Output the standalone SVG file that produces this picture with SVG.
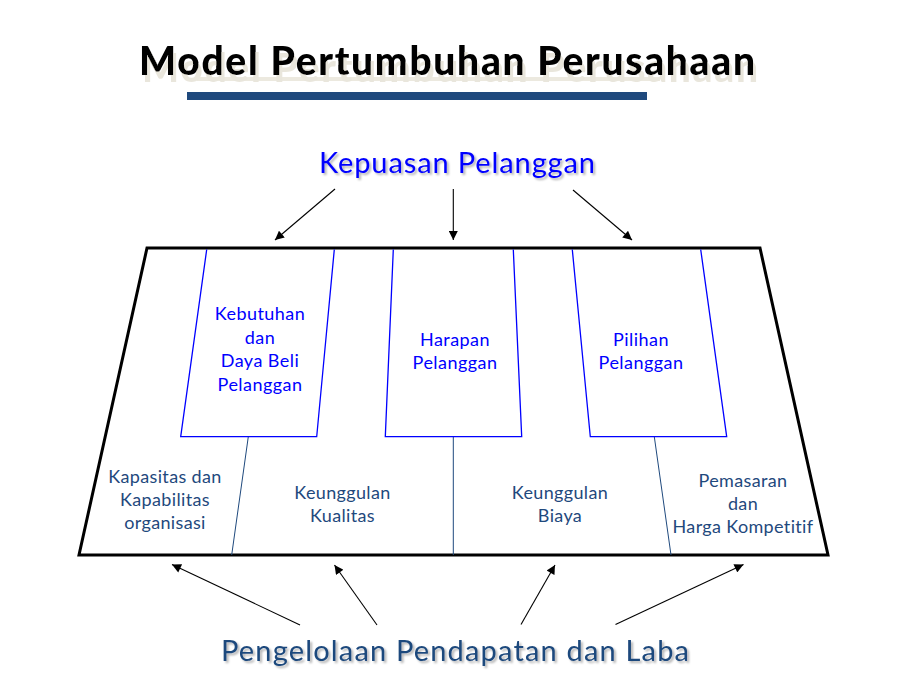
<svg xmlns="http://www.w3.org/2000/svg" width="913" height="685" viewBox="0 0 913 685">
<defs>
<style>
.title{font-family:Lato,"Liberation Sans",sans-serif;font-weight:900;font-size:39px;text-anchor:middle}
.big{font-family:Lato,"Liberation Sans",sans-serif;font-size:29px;text-anchor:middle}
.upper{font-family:Lato,"Liberation Sans",sans-serif;font-size:18px;letter-spacing:0.45px;fill:#0000FF;text-anchor:middle}
.lower{font-family:Lato,"Liberation Sans",sans-serif;font-size:18px;letter-spacing:0.35px;fill:#1F497D;text-anchor:middle}
.box{fill:none;stroke:#0000FF;stroke-width:1.3}
.div{fill:none;stroke:#1F497D;stroke-width:1}
.arr{fill:none;stroke:#000;stroke-width:1.1;marker-end:url(#ah)}
</style>
<marker id="ah" viewBox="0 0 10 10" refX="10" refY="5" markerWidth="10" markerHeight="9" markerUnits="userSpaceOnUse" orient="auto">
<path d="M0,0 L10,5 L0,10 z" fill="#000"/>
</marker>
<filter id="sh" x="-5%" y="-20%" width="110%" height="150%">
<feGaussianBlur in="SourceAlpha" stdDeviation="1"/>
<feOffset dx="1.5" dy="1.5" result="b"/>
<feFlood flood-color="#000" flood-opacity="0.3"/>
<feComposite in2="b" operator="in"/>
<feMerge><feMergeNode/><feMergeNode in="SourceGraphic"/></feMerge>
</filter>
<filter id="tsh" x="-5%" y="-20%" width="110%" height="160%">
<feOffset in="SourceAlpha" dx="3" dy="7" result="o"/>
<feFlood flood-color="#E9E6DC"/>
<feComposite in2="o" operator="in"/>
<feMerge><feMergeNode/><feMergeNode in="SourceGraphic"/></feMerge>
</filter>
</defs>
<rect width="913" height="685" fill="#fff"/>
<g id="title">
<rect x="197" y="77" width="463" height="4" fill="#ECE9DF"/>
<text class="title" x="447" y="75" fill="#000" textLength="616" lengthAdjust="spacing" filter="url(#tsh)">Model Pertumbuhan Perusahaan</text>
<rect x="187" y="92" width="460" height="8" fill="#1F497D"/>
</g>
<g id="kepuasan-pelanggan" filter="url(#sh)">
<text class="big" x="457" y="173" fill="#0000FF" textLength="276" lengthAdjust="spacing">Kepuasan Pelanggan</text>
</g>
<g id="pengelolaan" filter="url(#sh)">
<text class="big" x="455" y="661" fill="#1F497D" font-size="30" textLength="468" lengthAdjust="spacing">Pengelolaan Pendapatan dan Laba</text>
</g>
<g id="frame">
<polygon points="147,248 760,248 828,555 79,555" fill="none" stroke="#000" stroke-width="3" stroke-linejoin="miter"/>
</g>
<g id="dividers">
<line class="div" x1="248.3" y1="436.7" x2="231.7" y2="555"/>
<line class="div" x1="453.3" y1="436.7" x2="453.3" y2="555"/>
<line class="div" x1="654.3" y1="436.7" x2="671" y2="555"/>
</g>
<g id="kebutuhan">
<polyline class="box" points="206.7,249.5 180.7,436.7 316.7,436.7 334.3,249.5"/>
<text class="upper" x="260" y="320">Kebutuhan</text>
<text class="upper" x="260" y="343.5">dan</text>
<text class="upper" x="260" y="367">Daya Beli</text>
<text class="upper" x="260" y="390.5">Pelanggan</text>
</g>
<g id="harapan">
<polyline class="box" points="393.3,249.5 385.3,436.7 521.7,436.7 513.3,249.5"/>
<text class="upper" x="455" y="346">Harapan</text>
<text class="upper" x="455" y="369">Pelanggan</text>
</g>
<g id="pilihan">
<polyline class="box" points="572.3,249.5 590.3,436.7 726.7,436.7 700.7,249.5"/>
<text class="upper" x="641" y="346">Pilihan</text>
<text class="upper" x="641" y="369">Pelanggan</text>
</g>
<g id="kapasitas">
<text class="lower" x="165" y="483">Kapasitas dan</text>
<text class="lower" x="165" y="506">Kapabilitas</text>
<text class="lower" x="165" y="529">organisasi</text>
</g>
<g id="kualitas">
<text class="lower" x="342.5" y="499">Keunggulan</text>
<text class="lower" x="342.5" y="522">Kualitas</text>
</g>
<g id="biaya">
<text class="lower" x="560" y="499">Keunggulan</text>
<text class="lower" x="560" y="522">Biaya</text>
</g>
<g id="pemasaran">
<text class="lower" x="743" y="487">Pemasaran</text>
<text class="lower" x="743" y="510">dan</text>
<text class="lower" x="743" y="533">Harga Kompetitif</text>
</g>
<g id="connectors">
<line class="arr" x1="335" y1="189" x2="275" y2="240"/>
<line class="arr" x1="453.3" y1="189" x2="453.3" y2="240"/>
<line class="arr" x1="573" y1="190" x2="632" y2="240"/>
<line class="arr" x1="300" y1="625" x2="172" y2="564.5"/>
<line class="arr" x1="377" y1="625" x2="334.5" y2="565"/>
<line class="arr" x1="521" y1="624.5" x2="555" y2="565"/>
<line class="arr" x1="615.5" y1="624.5" x2="743.5" y2="564.5"/>
</g>
</svg>
